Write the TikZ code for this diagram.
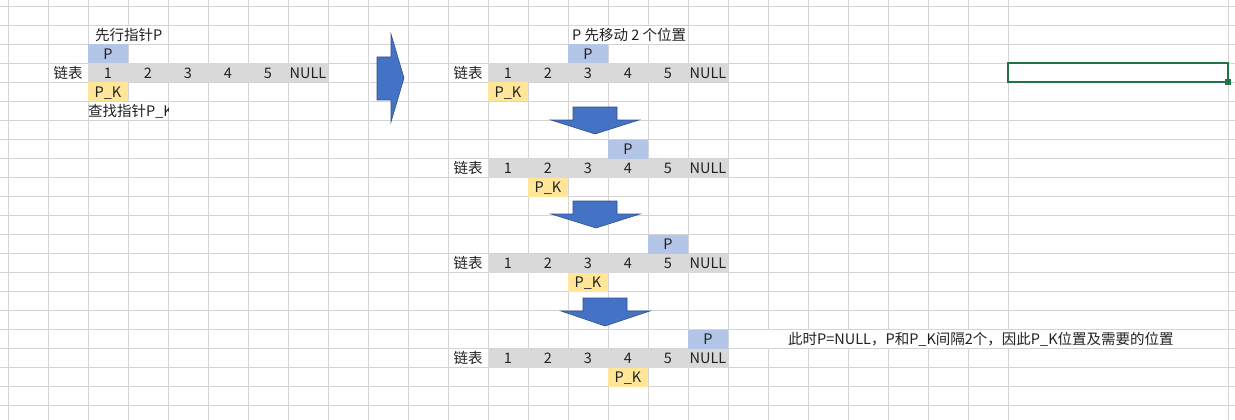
\documentclass[tikz,border=0pt]{standalone}
\usepackage{fontspec}
\setmainfont{Noto Sans CJK SC}
\definecolor{gridgray}{HTML}{D4D4D4}
\definecolor{listgray}{HTML}{D9D9D9}
\definecolor{pblue}{HTML}{B4C6E7}
\definecolor{pkyellow}{HTML}{FFE699}
\definecolor{arrowblue}{HTML}{4472C4}
\definecolor{arrowedge}{HTML}{2F528F}
\definecolor{selgreen}{HTML}{217346}
\definecolor{ink}{HTML}{222222}
\tikzset{
  gridline/.style={draw=gridgray, line width=0.8pt},
  cell/.style={anchor=north west, minimum width=40pt, minimum height=19pt,
    inner sep=0pt, outer sep=0pt, text height=13.5pt, text depth=2pt, text=ink},
  listcell/.style={cell, fill=listgray},
  pcell/.style={cell, fill=pblue},
  pkcell/.style={cell, fill=pkyellow},
  note/.style={anchor=west, inner sep=0pt, text height=13.5pt, text depth=2pt, text=ink},
  blockarrow/.style={fill=arrowblue, draw=arrowedge, line width=0.6pt, line join=miter}
}
\begin{document}
\begin{tikzpicture}[x=1pt,y=-1pt,font=\fontsize{14.5}{17}\selectfont]
  \useasboundingbox (0,0) rectangle (1235,420);
  \fill[white] (0,0) rectangle (1235,420);
  % sheet grid
  \foreach \c in {0,...,25}
    \draw[gridline] ({8+40*\c},0) -- ({8+40*\c},420);
  \draw[gridline] (1228,0) -- (1228,420);
  \foreach \r in {0,...,21}
    \draw[gridline] (0,{6.5+19*\r}) -- (1235,{6.5+19*\r});
  % long texts hide the lines they run over
  \fill[white] (88.5,26) rectangle (167.5,44);
  \fill[white] (568.5,26) rectangle (687.5,44);
  \fill[white] (88.5,102) rectangle (167.5,120);
  \fill[white] (728.5,330) rectangle (1227.5,348);

  % start
  \node[note] (N0) at (95,35) {先行指针P};
  \node[pcell] (P0) at (88,44.5) {P};
  \node[cell] (T0) at (48,63.5) {链表};
  \foreach \v [count=\i] in {1,2,3,4,5,NULL}
    \node[listcell] (L0-\i) at ({48+40*\i},63.5) {\v};
  \node[pkcell] (K0) at (88,82.5) {P\_K};
  \begin{scope}
    \clip (88,101.5) rectangle (168,120.5);
    \node[note] (N1) at (88,111) {查找指针P\_K};
  \end{scope}

  \filldraw[blockarrow] (377,57) -- (391,57) -- (391,34) -- (404,78)
    -- (391,122) -- (391,100) -- (377,100) -- cycle;

  % the four steps
  \node[note] (N2) at (572,35) {P 先移动 2 个位置};
  \foreach \y [count=\n] in {63.5,158.5,253.5,348.5}{
    \node[cell] (T\n) at (448,\y) {链表};
    \foreach \v [count=\i] in {1,2,3,4,5,NULL}
      \node[listcell] (L\n-\i) at ({448+40*\i},\y) {\v};
  }
  \node[pcell] (P1) at (568,44.5) {P};
  \node[pkcell] (K1) at (488,82.5) {P\_K};
  \node[pcell] (P2) at (608,139.5) {P};
  \node[pkcell] (K2) at (528,177.5) {P\_K};
  \node[pcell] (P3) at (648,234.5) {P};
  \node[pkcell] (K3) at (568,272.5) {P\_K};
  \node[pcell] (P4) at (688,329.5) {P};
  \node[pkcell] (K4) at (608,367.5) {P\_K};
  \node[note] (N3) at (788,339) {此时P=NULL，P和P\_K间隔2个，因此P\_K位置及需要的位置};

  \filldraw[blockarrow] (573,107) -- (617,107) -- (617,120) -- (639,120)
    -- (595,134) -- (551,120) -- (573,120) -- cycle;
  \filldraw[blockarrow] (573,201) -- (617,201) -- (617,214) -- (640,214)
    -- (596,228) -- (551,214) -- (573,214) -- cycle;
  \filldraw[blockarrow] (583,298) -- (627,298) -- (627,311) -- (650,311)
    -- (605,326) -- (561,311) -- (583,311) -- cycle;

  % selected cell
  \draw[selgreen, line width=2pt] (1008,63.5) rectangle (1228,82.5);
  \fill[selgreen] (1225,79.5) rectangle (1231,85.5);
\end{tikzpicture}
\end{document}
